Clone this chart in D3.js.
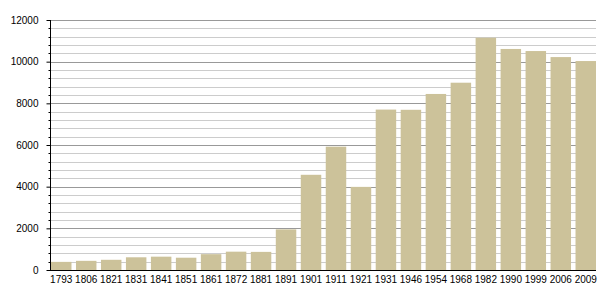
<!DOCTYPE html>
<html>
<head>
<meta charset="utf-8">
<script src="https://cdn.jsdelivr.net/npm/d3@7"></script>
<style>
  body { margin: 0; background: #fff; }
  svg text { font-family: "Liberation Sans", Arial, sans-serif; font-size: 10px; fill: #000; }
</style>
</head>
<body>
<div id="chart"></div>
<script>
// population by census year
const years = ['1793', '1806', '1821', '1831', '1841', '1851', '1861', '1872', '1881', '1891',
    '1901', '1911', '1921', '1931', '1946', '1954', '1968', '1982', '1990', '1999', '2006', '2009']
const population = [390, 440, 490, 610, 640, 590, 760, 880, 870, 1950,
    4570, 5920, 3990, 7700, 7690, 8450, 8990, 11150, 10610, 10510, 10220, 10030]
const majorTicks = [0, 2000, 4000, 6000, 8000, 10000, 12000]
const yMax = 12000
const minorStep = 400

const svgWidth = 605
const svgHeight = 300
const margin = { top: 20, right: 9, bottom: 30, left: 50 }

const svg = d3.select('#chart').append('svg')
    .attr('width', svgWidth)
    .attr('height', svgHeight)

const x = d3.scaleBand()
    .domain(years)
    .range([margin.left + 1, svgWidth - margin.right])
    .paddingInner(0.18)
    .paddingOuter(0)

const y = d3.scaleLinear()
    .domain([0, yMax])
    .range([svgHeight - margin.bottom, margin.top])

const minorTicks = d3.range(minorStep, yMax, minorStep).filter(d => d % 2000 !== 0)

// grid lines
const grid = svg.append('g').attr('class', 'grid')
grid.selectAll('line.minor').data(minorTicks).join('line')
    .attr('class', 'minor')
    .attr('x1', margin.left).attr('x2', svgWidth - margin.right)
    .attr('y1', d => Math.round(y(d)) + 0.5).attr('y2', d => Math.round(y(d)) + 0.5)
    .attr('stroke', '#cccccc').attr('stroke-width', 1)
grid.selectAll('line.major').data(majorTicks.filter(d => d > 0)).join('line')
    .attr('class', 'major')
    .attr('x1', margin.left).attr('x2', svgWidth - margin.right)
    .attr('y1', d => Math.round(y(d)) + 0.5).attr('y2', d => Math.round(y(d)) + 0.5)
    .attr('stroke', '#999999').attr('stroke-width', 1)

// bars
svg.append('g').selectAll('rect').data(population).join('rect')
    .attr('x', (d, i) => x(years[i]))
    .attr('y', d => y(d))
    .attr('width', x.bandwidth())
    .attr('height', d => y(0) - y(d))
    .attr('fill', '#ccc29a')

// y axis, major and minor ticks
const yAxis = svg.append('g')
    .attr('transform', 'translate(' + (margin.left + 0.5) + ',0)')
yAxis.call(d3.axisLeft(y).tickValues(majorTicks).tickSize(4).tickPadding(8).tickFormat(d3.format('d')))
yAxis.select('.domain').remove()
yAxis.selectAll('.tick line').attr('stroke', '#000')
yAxis.selectAll('.tick text').attr('font-size', 10).attr('font-family', '"Liberation Sans", Arial, sans-serif')
yAxis.selectAll('line.minor').data(minorTicks).join('line')
    .attr('class', 'minor')
    .attr('x1', -2).attr('x2', 0)
    .attr('y1', d => Math.round(y(d)) + 0.5).attr('y2', d => Math.round(y(d)) + 0.5)
    .attr('stroke', '#000')
yAxis.append('line')
    .attr('x1', 0).attr('x2', 0)
    .attr('y1', y(yMax)).attr('y2', y(0) + 1)
    .attr('stroke', '#000')

// x axis
const xAxis = svg.append('g')
    .attr('transform', 'translate(0,' + (y(0) + 0.5) + ')')
xAxis.call(d3.axisBottom(x).tickSize(0).tickPadding(5))
xAxis.select('.domain').remove()
xAxis.selectAll('.tick text').attr('font-size', 10).attr('font-family', '"Liberation Sans", Arial, sans-serif')
xAxis.append('line')
    .attr('x1', margin.left).attr('x2', svgWidth - margin.right)
    .attr('stroke', '#000')
</script>
</body>
</html>
